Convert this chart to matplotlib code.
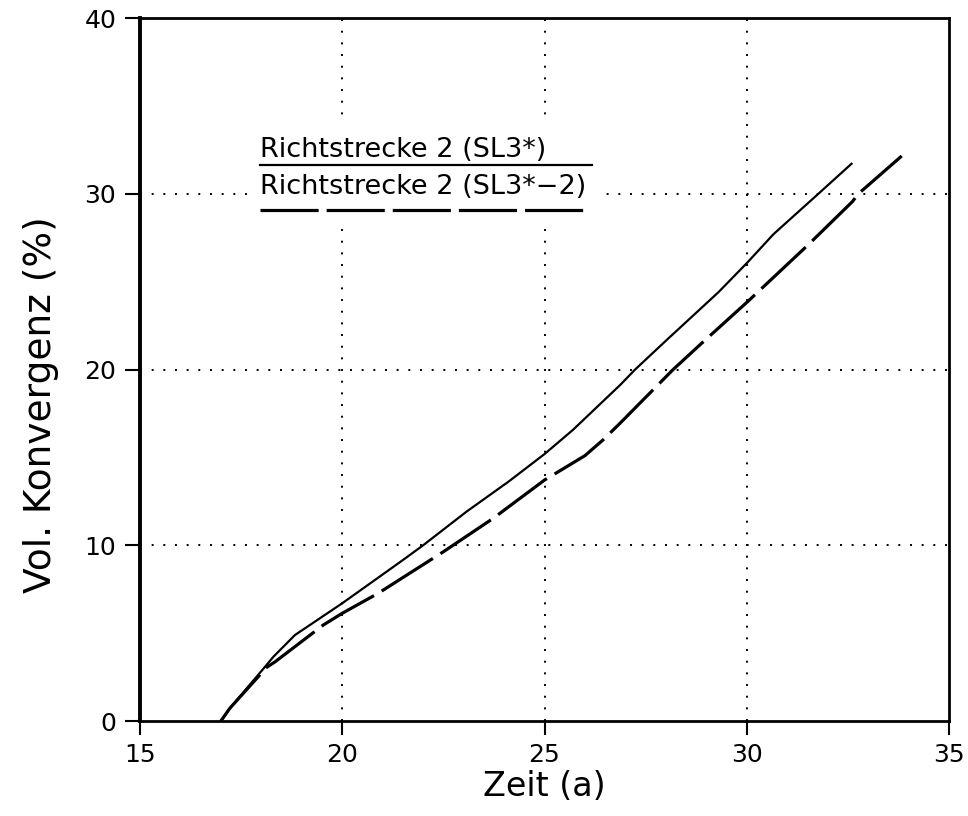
import numpy as np
import matplotlib
matplotlib.use("Agg")
import matplotlib.pyplot as plt

# solid curve: Richtstrecke 2 (SL3*)
zeit_sl3 = [17.0, 17.22, 18.13, 18.3, 18.83, 20.0, 21.5, 22.0, 23.07, 24.11,
            25.0, 25.7, 26.87, 27.24, 28.02, 29.3, 30.02, 30.66, 31.77, 32.61]
konv_sl3 = [0.0, 0.72, 3.19, 3.66, 4.89, 6.70, 9.16, 10.0, 11.91, 13.62,
            15.19, 16.56, 19.12, 20.0, 21.68, 24.4, 26.1, 27.7, 30.0, 31.75]

# dashed curve: Richtstrecke 2 (SL3*-2)
zeit_sl3_2 = [17.0, 17.22, 18.13, 18.34, 19.53, 20.0, 20.89, 22.5, 23.73, 25.0,
              26.0, 26.45, 26.87, 28.18, 28.84, 30.02, 31.52, 32.61, 32.76, 33.83]
konv_sl3_2 = [0.0, 0.72, 3.05, 3.37, 5.46, 6.13, 7.27, 9.63, 11.53, 13.71,
              15.1, 16.0, 16.95, 20.0, 21.4, 23.86, 27.1, 29.55, 30.0, 32.15]

labels = ["Richtstrecke 2 (SL3*)", "Richtstrecke 2 (SL3*\u22122)"]
xticks = [15, 20, 25, 30, 35]
yticks = [0, 10, 20, 30, 40]

fig = plt.figure(figsize=(9.68, 8.16), dpi=100)
ax = fig.add_axes([0.1446, 0.1164, 0.8358, 0.8615])

ax.plot(zeit_sl3, konv_sl3, color="black", lw=1.6, solid_capstyle="butt", zorder=3)
ax.plot(zeit_sl3_2, konv_sl3_2, color="black", lw=2.3, dashes=(19, 2.8), zorder=3)

ax.set_xlim(15, 35)
ax.set_ylim(0, 40)
ax.set_xticks(xticks)
ax.set_yticks(yticks)

# dotted grid at the inner ticks only
for x in xticks[1:-1]:
    ax.axvline(x, color="black", lw=1.4, ls=(0, (1, 5)), zorder=1)
for y in yticks[1:-1]:
    ax.axhline(y, color="black", lw=1.4, ls=(0, (1, 5)), zorder=1)

for side in ["top", "bottom", "right"]:
    ax.spines[side].set_linewidth(2.0)
ax.spines["left"].set_linewidth(2.8)

ax.tick_params(axis="both", direction="out", width=1.5, labelsize=18, color="black")
ax.tick_params(axis="y", length=11, pad=6)
ax.tick_params(axis="x", length=10, pad=6)

ax.set_xlabel("Zeit (a)", fontsize=24, labelpad=2)
ax.set_ylabel("Vol. Konvergenz (%)", fontsize=27)
ax.yaxis.set_label_coords(-0.10, 0.45)

# legend: text above line sample, white box hides the grid behind it
tr = ax.transAxes
ax.add_patch(plt.Rectangle((0.136, 0.71), 0.43, 0.14, transform=tr,
                           facecolor="white", edgecolor="none", zorder=2))
ax.text(0.148, 0.803, labels[0], transform=tr, fontsize=19.5, ha="left",
        va="baseline", zorder=4)
ax.plot([0.148, 0.559], [0.791, 0.791], transform=tr, color="black",
        lw=1.6, zorder=4)
ax.text(0.148, 0.750, labels[1], transform=tr, fontsize=19.5, ha="left",
        va="baseline", zorder=4)
ax.plot([0.148, 0.553], [0.727, 0.727], transform=tr, color="black",
        lw=2.3, dashes=(18.2, 2.5), zorder=4)

fig.savefig("out.png", dpi=100)
